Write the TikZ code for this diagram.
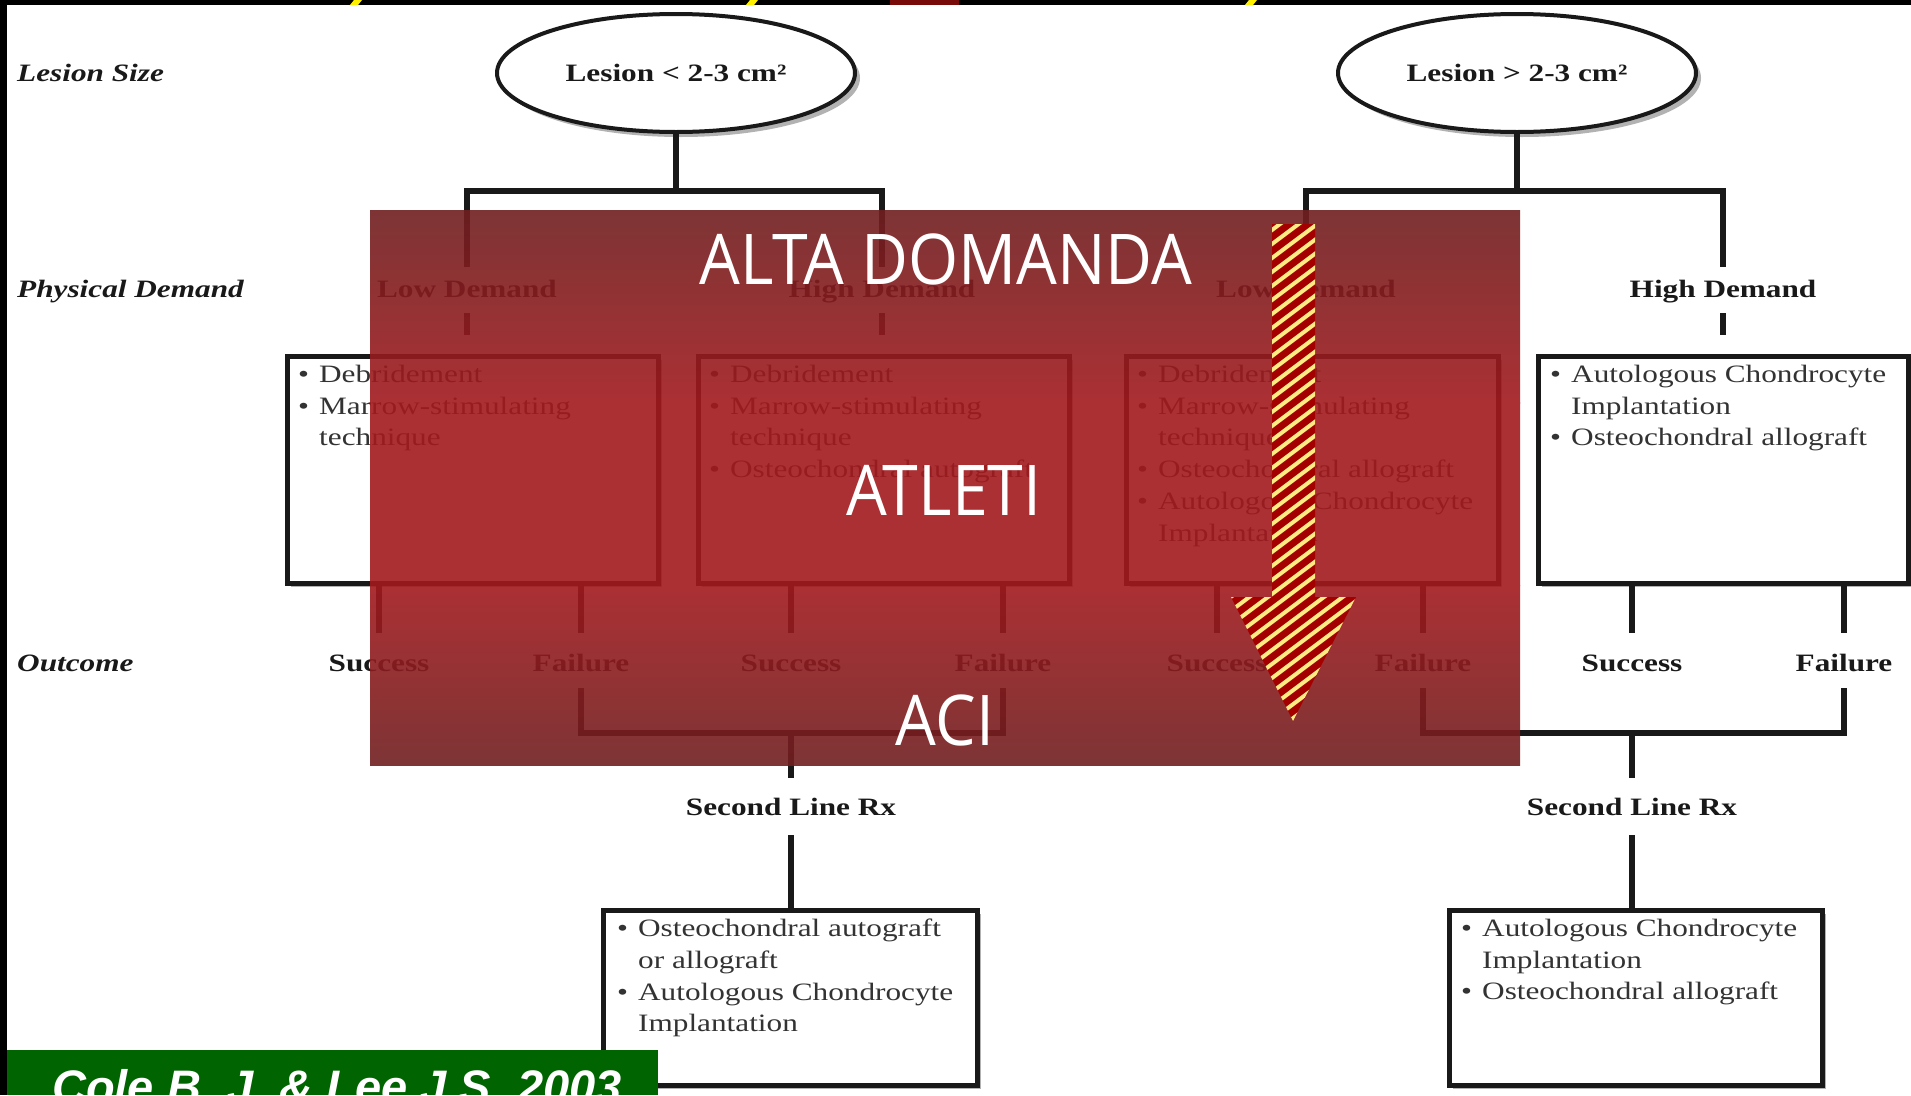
\documentclass[tikz,border=0pt]{standalone}
\usepackage{fontspec}
\setmainfont{Liberation Serif}
\newfontfamily\dfont[FakeStretch=1.25]{Liberation Serif}
\newfontfamily\ofont[FakeStretch=0.92]{Open Sans}
\newfontfamily\cfont{Liberation Sans}
\usetikzlibrary{shapes.geometric,shadows}
\definecolor{ovtop}{RGB}{112,30,32}
\definecolor{ovmid}{RGB}{162,26,30}
\definecolor{arrred}{RGB}{165,0,0}
\definecolor{arryel}{RGB}{255,236,130}
\definecolor{colegreen}{RGB}{0,100,0}
\definecolor{ink}{RGB}{25,25,25}
\definecolor{topyel}{RGB}{255,240,0}
\definecolor{topred}{RGB}{120,10,10}
\newcommand{\bu}{\makebox[21pt][l]{\textbullet}}
\newcommand{\ind}{\hspace*{21pt}}
\tikzset{
  tree/.style={line width=5.5pt, draw=ink},
  lbl/.style={font={\dfont\bfseries\fontsize{25}{30}\selectfont}, inner sep=0pt, text height=17pt, text depth=5pt, text=ink},
  side/.style={font={\dfont\bfseries\itshape\fontsize{25}{30}\selectfont}, inner sep=0pt, text height=17pt, text depth=5pt, text=ink, anchor=west},
  ell/.style={ellipse, draw=ink, line width=4pt, fill=white, minimum width=358pt, minimum height=118pt, inner sep=0pt,
    font={\dfont\bfseries\fontsize{25}{30}\selectfont}, text=ink,
    drop shadow={shadow xshift=5pt, shadow yshift=-5pt, fill=black!30, opacity=1}},
  bx/.style={rectangle, draw=ink, line width=5pt, fill=white, anchor=north west, inner sep=0pt,
    drop shadow={shadow xshift=4pt, shadow yshift=-4pt, fill=black!30, opacity=1}},
  btxt/.style={font={\dfont\fontsize{25}{31.7}\selectfont}, align=left, anchor=north west, inner sep=0pt, text=black!80},
  big/.style={font={\ofont\fontsize{70}{72}\selectfont}, text=white, inner sep=0pt, text height=50pt, text depth=0pt},
}
\begin{document}
\begin{tikzpicture}[x=1pt,y=-1pt]
\useasboundingbox (0,0) rectangle (1911,1095);
\clip (0,0) rectangle (1911,1095);
\fill[white] (0,0) rectangle (1911,1095);

% side labels
\node[side] (lsz) at (17,75) {Lesion Size};
\node[side] (pdm) at (17,291) {Physical Demand};
\node[side] (out) at (17,665) {Outcome};

% lesion ellipses
\node[ell] (e1) at (676,73) {Lesion < 2-3 cm²};
\node[ell] (e2) at (1517,73) {Lesion > 2-3 cm²};

% demand labels
\node[lbl] (ld1) at (467,291) {Low Demand};
\node[lbl] (hd1) at (882,291) {High Demand};
\node[lbl] (ld2) at (1306,291) {Low Demand};
\node[lbl] (hd2) at (1723,291) {High Demand};

% treatment boxes
\node[bx, minimum width=371pt, minimum height=227pt] (b1) at (284.5,353.5) {};
\node[bx, minimum width=371pt, minimum height=227pt] (b2) at (695.5,353.5) {};
\node[bx, minimum width=372pt, minimum height=227pt] (b3) at (1123.5,353.5) {};
\node[bx, minimum width=370pt, minimum height=227pt] (b4) at (1535.5,353.5) {};

\node[btxt] (t1) at (298,365) {\bu Debridement\\\bu Marrow-stimulating\\\ind technique};
\node[btxt] (t2) at (709,365) {\bu Debridement\\\bu Marrow-stimulating\\\ind technique\\\bu Osteochondral autograft};
\node[btxt] (t3) at (1137,365) {\bu Debridement\\\bu Marrow-stimulating\\\ind technique\\\bu Osteochondral allograft\\\bu Autologous Chondrocyte\\\ind Implantation};
\node[btxt] (t4) at (1550,365) {\bu Autologous Chondrocyte\\\ind Implantation\\\bu Osteochondral allograft};

% outcome labels
\node[lbl] (s1) at (379,665) {Success};
\node[lbl] (f1) at (581,665) {Failure};
\node[lbl] (s2) at (791,665) {Success};
\node[lbl] (f2) at (1003,665) {Failure};
\node[lbl] (s3) at (1217,665) {Success};
\node[lbl] (f3) at (1423,665) {Failure};
\node[lbl] (s4) at (1632,665) {Success};
\node[lbl] (f4) at (1844,665) {Failure};

% second line
\node[lbl] (sl1) at (791,809) {Second Line Rx};
\node[lbl] (sl2) at (1632,809) {Second Line Rx};

\node[bx, minimum width=374pt, minimum height=175pt] (bb1) at (600.5,907.5) {};
\node[bx, minimum width=373pt, minimum height=175pt] (bb2) at (1446.5,907.5) {};
\node[btxt] (tb1) at (617,919) {\bu Osteochondral autograft\\\ind or allograft\\\bu Autologous Chondrocyte\\\ind Implantation};
\node[btxt] (tb2) at (1461,919) {\bu Autologous Chondrocyte\\\ind Implantation\\\bu Osteochondral allograft};

% connectors
\coordinate (ya) at (0,191);
\coordinate (yb) at (0,733);
\draw[tree] (e1.south) -- (e1.south |- ya);
\draw[tree] (e2.south) -- (e2.south |- ya);
\draw[tree, shorten <=13pt, shorten >=13pt] (ld1.north) |- (hd1.north |- ya) -- (hd1.north);
\draw[tree, shorten <=13pt, shorten >=13pt] (ld2.north) |- (hd2.north |- ya) -- (hd2.north);
\foreach \l/\b in {ld1/b1, hd1/b2, ld2/b3, hd2/b4}
  \draw[tree, shorten <=11pt, shorten >=18.5pt] (\l.south) -- (\b.north -| \l.south);
\foreach \b/\s in {b1/s1, b1/f1, b2/s2, b2/f2, b3/s3, b3/f3, b4/s4, b4/f4}
  \draw[tree, shorten >=21pt] (\b.south -| \s.north) -- (\s.north);
\draw[tree, shorten <=12pt, shorten >=12pt] (f1.south) |- (f2.south |- yb) -- (f2.south);
\draw[tree, shorten <=12pt, shorten >=12pt] (f3.south) |- (f4.south |- yb) -- (f4.south);
\draw[tree, shorten >=20pt] (sl1.north |- yb) -- (sl1.north);
\draw[tree, shorten >=20pt] (sl2.north |- yb) -- (sl2.north);
\draw[tree, shorten <=15pt] (sl1.south) -- (bb1.north -| sl1.south);
\draw[tree, shorten <=15pt] (sl2.south) -- (bb2.north -| sl2.south);

% red overlay (vertical gradient with bright plateau, translucent)
\begin{scope}[transparency group, opacity=0.9]
  \shade[top color=ovtop, bottom color=ovmid] (370,210) rectangle (1520,403);
  \fill[ovmid] (370,402) rectangle (1520,586);
  \shade[top color=ovmid, bottom color=ovtop] (370,585) rectangle (1520,765);
\end{scope}
\node[big] (alta) at (946,259) {ALTA DOMANDA};
\node[big] (atl) at (944,490) {ATLETI};
\node[big] (aci) at (945,720) {ACI};

% striped arrow
\begin{scope}
  \clip (1272,224) -- (1315,224) -- (1315,597) -- (1356,597) -- (1293,721) -- (1231,597) -- (1272,597) -- cycle;
  \fill[arrred] (1220,215) rectangle (1370,730);
  \foreach \i in {0,...,50}
    \draw[arryel, line width=4pt] (1200,{200+14*\i}) -- ++(200,-150);
\end{scope}

% frame fragments
\fill[black] (0,0) rectangle (1911,5);
\fill[black] (0,0) rectangle (7,1095);
\fill[topred] (890,0) rectangle (959,5);
\foreach \x in {350,746,1245}
  \fill[topyel] (\x+4,0) -- (\x+12,0) -- (\x+8,5) -- (\x,5) -- cycle;

% citation
\fill[colegreen] (7,1050) rectangle (658,1095);
\node[anchor=base west, inner sep=0pt, text=white, font={\cfont\bfseries\itshape\fontsize{47}{50}\selectfont}] (cole) at (52,1103) {Cole B. J. \& Lee J.S. 2003};
\end{tikzpicture}
\end{document}
